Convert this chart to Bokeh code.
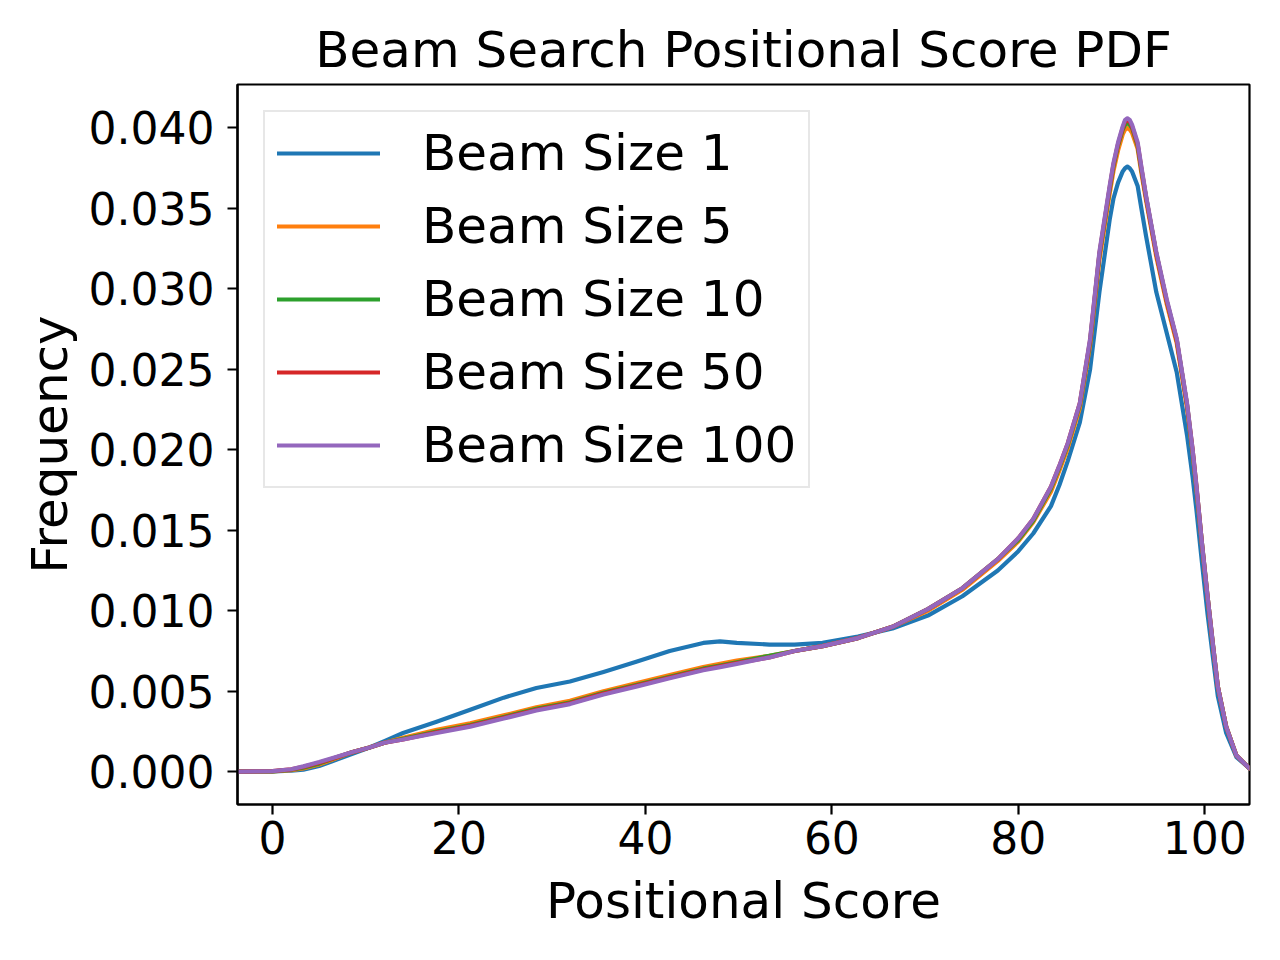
from bokeh.plotting import figure
from bokeh.models import Range1d, FixedTicker, PrintfTickFormatter, Legend, LegendItem
from bokeh.embed import file_html
from bokeh.resources import INLINE

# ---- data ----
scores = [-3.8, 0, 2, 3.3, 5, 6.9, 8.5, 10.4, 12, 14,
          17.6, 21.2, 24.8, 28.3, 31.9, 35.5, 39.1, 42.6, 46.2, 48,
          49.8, 53.3, 56, 59, 62.8, 66.5, 70.3, 74, 77.8, 80,
          81.6, 83.5, 84.4, 85.3, 86.6, 87.7, 88.7, 89.8, 90.2, 90.7, 91.2, 91.45,
          91.7, 91.95, 92.2, 92.8, 93.2, 93.7, 94.8, 95.9, 97, 98.1, 98.7, 99.1,
          99.7, 100.3, 100.9, 101.4, 102.3, 103.4, 104.8]

beam1 = [0.0, 0.00002, 0.00006, 0.00012, 0.00035, 0.00075, 0.0011, 0.0015, 0.0019, 0.0024,
         0.0031, 0.00385, 0.0046, 0.0052, 0.0056, 0.0062, 0.00685, 0.0075, 0.0080, 0.0081,
         0.0080, 0.0079, 0.0079, 0.0080, 0.0084, 0.0089, 0.0097, 0.0109, 0.0125, 0.0137,
         0.0148, 0.0165, 0.0178, 0.0193, 0.0217, 0.0250, 0.0298, 0.0343, 0.0356, 0.0366, 0.0373, 0.0375,
         0.0376, 0.0375, 0.0373, 0.0364, 0.0350, 0.0333, 0.0298, 0.0273, 0.0248, 0.0209, 0.0183, 0.0163,
         0.0130, 0.0098, 0.0070, 0.0047, 0.0024, 0.0009, 0.0002]

beam5 = [0.0, 0.00002, 0.0001, 0.0002, 0.00045, 0.00085, 0.0012, 0.0015, 0.0018, 0.0021,
         0.0026, 0.0030, 0.0035, 0.0040, 0.0044, 0.0050, 0.0055, 0.0060, 0.0065, 0.0067,
         0.0069, 0.0072, 0.0075, 0.0078, 0.0083, 0.0090, 0.0100, 0.0113, 0.0131, 0.0143,
         0.0155, 0.0174, 0.0187, 0.0201, 0.0226, 0.0265, 0.0318, 0.0359, 0.0373, 0.0386, 0.0396, 0.0399,
         0.0400, 0.0399, 0.0397, 0.0387, 0.0372, 0.0355, 0.0320, 0.0291, 0.0266, 0.0226, 0.0198, 0.0176,
         0.0141, 0.0108, 0.0077, 0.0053, 0.0028, 0.0010, 0.0002]

beam10 = [0.0, 0.00002, 0.00012, 0.00025, 0.0005, 0.0009, 0.0012, 0.0015, 0.0018, 0.00205,
          0.0025, 0.0029, 0.0034, 0.0039, 0.0043, 0.0049, 0.0054, 0.0059, 0.0064, 0.0066,
          0.0068, 0.0072, 0.0075, 0.0078, 0.0083, 0.0090, 0.0101, 0.0114, 0.0132, 0.0144,
          0.0156, 0.0176, 0.0189, 0.0203, 0.0228, 0.0267, 0.0321, 0.0362, 0.0376, 0.0389, 0.0399, 0.0402,
          0.0403, 0.0402, 0.0400, 0.0389, 0.0374, 0.0357, 0.0322, 0.0293, 0.0268, 0.0228, 0.0199, 0.0177,
          0.0142, 0.0109, 0.0078, 0.0053, 0.0028, 0.0010, 0.0002]

beam50 = [0.0, 0.00003, 0.00014, 0.0003, 0.00055, 0.0009, 0.0012, 0.0015, 0.0018, 0.0020,
          0.00245, 0.00285, 0.00335, 0.00385, 0.00425, 0.00485, 0.00535, 0.00585, 0.00635, 0.00655,
          0.00675, 0.0071, 0.0075, 0.0078, 0.0083, 0.0090, 0.0101, 0.0114, 0.0132, 0.0145,
          0.0157, 0.0177, 0.0190, 0.0204, 0.0229, 0.0268, 0.0322, 0.0363, 0.0377, 0.0390, 0.0400, 0.0404,
          0.0405, 0.0404, 0.0401, 0.0390, 0.0375, 0.0357, 0.0322, 0.0293, 0.0268, 0.0228, 0.0200, 0.0178,
          0.0142, 0.0109, 0.0078, 0.0053, 0.0028, 0.0010, 0.0002]

beam100 = [0.0, 0.00003, 0.00015, 0.00033, 0.0006, 0.00093, 0.0012, 0.0015, 0.0018, 0.0020,
           0.0024, 0.0028, 0.0033, 0.0038, 0.0042, 0.0048, 0.0053, 0.0058, 0.0063, 0.0065,
           0.0067, 0.0071, 0.0075, 0.0078, 0.0083, 0.0090, 0.0101, 0.0114, 0.0132, 0.0145,
           0.0157, 0.0177, 0.0190, 0.0204, 0.0229, 0.0269, 0.0323, 0.0364, 0.0378, 0.0391, 0.0401, 0.0405,
           0.0406, 0.0405, 0.0402, 0.0391, 0.0376, 0.0358, 0.0323, 0.0294, 0.0269, 0.0229, 0.0200, 0.0178,
           0.0142, 0.0109, 0.0078, 0.0053, 0.0028, 0.0010, 0.0002]

labels = ["Beam Size 1", "Beam Size 5", "Beam Size 10", "Beam Size 50", "Beam Size 100"]
series = [beam1, beam5, beam10, beam50, beam100]
colors = ["#1f77b4", "#ff7f0e", "#2ca02c", "#d62728", "#9467bd"]

x_ticks = [0, 20, 40, 60, 80, 100]
y_ticks = [0.0, 0.005, 0.01, 0.015, 0.02, 0.025, 0.03, 0.035, 0.04]

FONT = "DejaVu Sans"

p = figure(width=1264, height=944, output_backend="svg", toolbar_location=None,
           x_range=Range1d(-3.76, 104.8), y_range=Range1d(-0.00204, 0.0427),
           min_border_left=237, min_border_right=15, min_border_top=84, min_border_bottom=140,
           title="Beam Search Positional Score PDF")

p.title.text_font = FONT
p.title.text_font_size = "50px"
p.title.text_font_style = "normal"
p.title.text_color = "black"
p.title.align = "center"
p.title.standoff = 11

p.xgrid.visible = False
p.ygrid.visible = False
p.outline_line_color = "black"
p.outline_line_width = 2.2

for ax in (p.xaxis[0], p.yaxis[0]):
    ax.axis_line_width = 2.2
    ax.major_tick_line_width = 2.2
    ax.major_tick_out = 10
    ax.major_tick_in = 0
    ax.minor_tick_out = 0
    ax.minor_tick_in = 0
    ax.major_label_text_font = FONT
    ax.major_label_text_font_size = "44px"
    ax.major_label_text_color = "black"
    ax.axis_label_text_font = FONT
    ax.axis_label_text_font_size = "50px"
    ax.axis_label_text_font_style = "normal"
    ax.axis_label_text_color = "black"

p.xaxis.ticker = FixedTicker(ticks=x_ticks)
p.yaxis.ticker = FixedTicker(ticks=y_ticks)
p.yaxis.formatter = PrintfTickFormatter(format="%.3f")
p.xaxis.axis_label = "Positional Score"
p.yaxis.axis_label = "Frequency"
p.xaxis.major_label_standoff = 6
p.yaxis.major_label_standoff = 13
p.xaxis.axis_label_standoff = 15
p.yaxis.axis_label_standoff = 7

items = []
for lab, ys, c in zip(labels, series, colors):
    r = p.line(scores, ys, line_color=c, line_width=4.2, line_join="round", line_cap="round")
    items.append(LegendItem(label=lab, renderers=[r]))

legend = Legend(items=items, location="top_left", margin=26,
                padding=12, spacing=15, glyph_width=103, glyph_height=56,
                label_height=56, label_standoff=42,
                label_text_font=FONT, label_text_font_size="50px",
                label_text_color="black",
                border_line_color="#d0d0d0", border_line_width=2.2,
                background_fill_alpha=0.8)
p.add_layout(legend)

open("out.html", "w").write(file_html(p, INLINE))
